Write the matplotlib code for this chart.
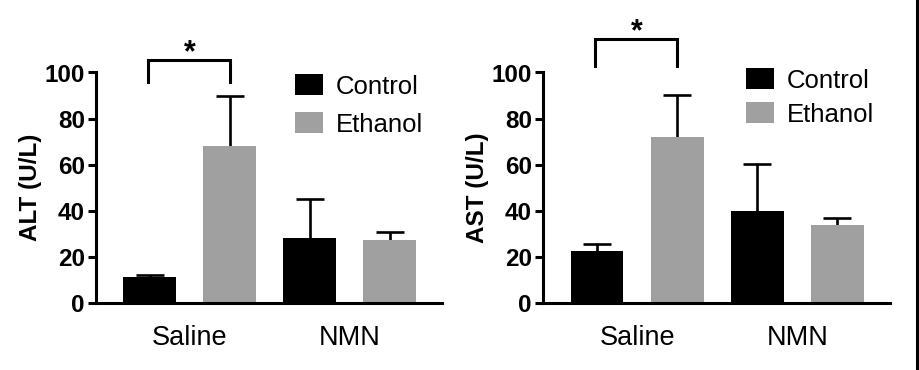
import numpy as np
import matplotlib
matplotlib.use('Agg')
import matplotlib.pyplot as plt
from matplotlib.lines import Line2D

plt.rcParams['font.family'] = ['Liberation Sans', 'DejaVu Sans']

# data
groups = ['Saline', 'NMN']
series = ['Control', 'Ethanol']
colors = ['#000000', '#a0a0a0']

alt_mean = [[11.3, 28.4], [68.0, 27.3]]
alt_err = [[0.8, 16.8], [22.0, 3.5]]
ast_mean = [[22.4, 39.8], [72.2, 33.9]]
ast_err = [[3.4, 20.6], [18.1, 3.1]]

panels = [
    # ylabel, means, errs, bracket top, bracket bottom, star y, legend anchor, label spacing
    ('ALT (U/L)', alt_mean, alt_err, 105.5, 96.0, 102.0, (0.575, 0.9935), 0.53),
    ('AST (U/L)', ast_mean, ast_err, 114.5, 103.0, 111.0, (0.584, 1.0195), 0.37),
]

W, H = 920, 370
fig = plt.figure(figsize=(W / 100, H / 100), dpi=100)

axes_px = [(96, 442), (543, 890)]
y0_px, y100_px = 303, 72.5
x = np.arange(len(groups))
offs = [-0.25, 0.25]
bw = 0.33

for (left, right), (ylab, means, errs, btop, bbot, stary, anchor, lspace) in zip(axes_px, panels):
    ax = fig.add_axes([left / W, (H - y0_px) / H, (right - left) / W, (y0_px - y100_px) / H])
    for i, s in enumerate(series):
        xs = x + offs[i]
        eb = ax.errorbar(xs, means[i], yerr=[np.zeros(len(groups)), errs[i]], fmt='none',
                         ecolor='black', elinewidth=1.9, capsize=10, capthick=1.9, zorder=1)
        eb[1][0].set_visible(False)  # only upper caps
        ax.bar(xs, means[i], width=bw, color=colors[i], label=s, zorder=2)

    ax.set_xlim(-0.587, 1.578)
    ax.set_ylim(0, 100)
    ax.set_yticks([0, 20, 40, 60, 80, 100])
    ax.set_xticks(x)
    ax.set_xticklabels(groups, fontsize=19.5)
    for lab in ax.get_yticklabels():
        lab.set_fontweight('bold')
        lab.set_fontsize(17.5)
    ax.tick_params(axis='y', width=2.2, length=6, direction='out', pad=2)
    ax.tick_params(axis='x', length=0, pad=16)
    ax.spines['top'].set_visible(False)
    ax.spines['right'].set_visible(False)
    ax.spines['left'].set_linewidth(2.2)
    ax.spines['bottom'].set_linewidth(2.2)
    ax.set_ylabel(ylab, fontsize=17.5, fontweight='bold', labelpad=2)

    # significance bracket
    ax.plot([-0.26, -0.26, 0.25, 0.25], [bbot, btop, btop, bbot], color='black',
            lw=2.2, clip_on=False, solid_joinstyle='miter')
    ax.text(0.0, stary, '*', ha='center', va='bottom', fontsize=22, fontweight='bold')

    ax.legend(loc='upper left', bbox_to_anchor=anchor, frameon=False, fontsize=18.5,
              handlelength=1.1, handleheight=0.9, handletextpad=0.5,
              labelspacing=lspace, borderpad=0, borderaxespad=0)

fig.add_artist(Line2D([917.5 / W, 917.5 / W], [0, 1], color='black', lw=2.2))

fig.savefig('out.png', dpi=100)
